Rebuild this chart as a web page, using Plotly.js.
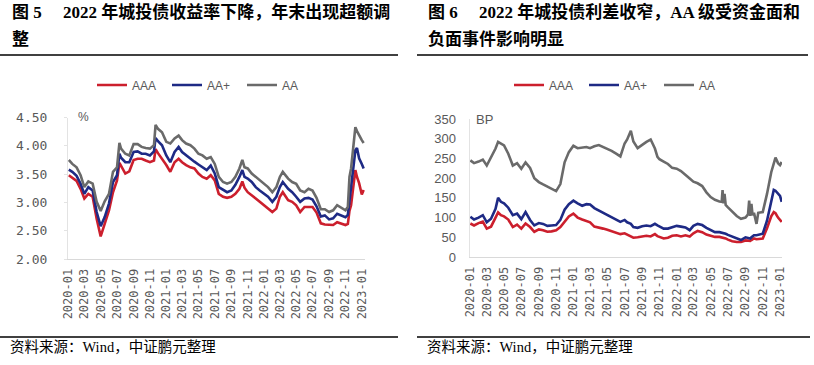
<!DOCTYPE html>
<html><head><meta charset="utf-8">
<script src="https://cdn.plot.ly/plotly-3.0.1.min.js"></script>
<style>html,body{margin:0;padding:0;background:#fff}#chart{width:814px;height:365px}</style>
</head><body><div id="chart"></div>
<script>
// ---------- Data: Figure 5 (yield, %) ----------
const datesL = ["2020-01-03","2020-01-16","2020-02-01","2020-02-16","2020-03-01","2020-03-16","2020-04-01","2020-04-16","2020-05-01","2020-05-16",
"2020-06-01","2020-06-16","2020-07-01","2020-07-10","2020-07-16","2020-08-01","2020-08-16","2020-09-01","2020-09-16","2020-10-01",
"2020-10-16","2020-11-01","2020-11-16","2020-11-22","2020-12-01","2020-12-16","2021-01-01","2021-01-16","2021-02-01","2021-02-16",
"2021-03-01","2021-03-16","2021-04-01","2021-04-16","2021-05-01","2021-05-16","2021-06-01","2021-06-16","2021-07-01","2021-07-16",
"2021-08-01","2021-08-16","2021-09-01","2021-09-16","2021-10-01","2021-10-12","2021-10-20","2021-11-01","2021-11-16","2021-12-01",
"2021-12-16","2022-01-01","2022-01-16","2022-02-01","2022-02-16","2022-03-01","2022-03-12","2022-04-01","2022-04-16","2022-05-01",
"2022-05-16","2022-06-01","2022-06-16","2022-07-01","2022-07-16","2022-08-01","2022-08-16","2022-09-01","2022-09-16","2022-10-01",
"2022-10-16","2022-11-01","2022-11-10","2022-11-16","2022-11-22","2022-12-01","2022-12-08","2022-12-14","2022-12-22","2023-01-01","2023-01-08"];
const aaL = [3.75,3.68,3.62,3.48,3.27,3.37,3.33,3.01,2.85,3.02,
3.15,3.54,3.62,4.05,3.95,3.86,3.83,4.03,4.03,3.98,
3.96,3.95,4.01,4.37,4.30,4.24,4.07,4.04,4.13,4.18,
4.10,4.04,4.01,3.95,3.86,3.83,3.77,3.80,3.68,3.45,
3.36,3.33,3.36,3.45,3.60,3.75,3.62,3.60,3.51,3.45,
3.39,3.33,3.27,3.18,3.27,3.45,3.54,3.42,3.36,3.33,
3.21,3.18,3.24,3.21,3.08,2.88,2.88,2.83,2.86,2.95,
2.90,2.86,2.92,3.45,3.60,4.05,4.33,4.26,4.18,4.10,4.05];
const aaPlusL = [3.58,3.54,3.47,3.33,3.15,3.27,3.21,2.83,2.58,2.74,
2.98,3.36,3.48,3.86,3.79,3.71,3.71,3.89,3.90,3.86,
3.86,3.83,3.90,4.14,4.08,4.01,3.83,3.71,3.89,3.98,
3.89,3.83,3.77,3.72,3.67,3.62,3.57,3.65,3.51,3.27,
3.23,3.18,3.21,3.31,3.45,3.57,3.45,3.42,3.36,3.27,
3.21,3.15,3.10,3.01,3.10,3.27,3.36,3.24,3.18,3.10,
3.01,3.07,3.08,3.05,2.93,2.75,2.77,2.70,2.72,2.80,
2.77,2.74,2.78,3.05,3.25,3.60,3.92,3.96,3.78,3.68,3.60];
const aaaL = [3.48,3.44,3.38,3.24,3.07,3.15,3.10,2.71,2.40,2.62,
2.86,3.18,3.39,3.70,3.64,3.51,3.55,3.75,3.77,3.77,
3.74,3.71,3.74,3.94,3.87,3.77,3.66,3.54,3.71,3.77,
3.71,3.66,3.62,3.60,3.51,3.45,3.42,3.48,3.39,3.15,
3.10,3.08,3.10,3.15,3.24,3.37,3.26,3.18,3.13,3.07,
3.01,2.95,2.89,2.83,2.89,3.10,3.18,3.04,3.01,2.95,
2.83,2.92,2.92,2.92,2.82,2.63,2.61,2.60,2.60,2.65,
2.62,2.60,2.62,2.85,2.95,3.30,3.57,3.45,3.34,3.14,3.22];

// ---------- Data: Figure 6 (spread, BP) ----------
const datesR = ["2020-01-03","2020-01-16","2020-02-01","2020-02-16","2020-03-01","2020-03-16","2020-04-01","2020-04-10","2020-04-20","2020-05-01",
"2020-05-16","2020-06-01","2020-06-16","2020-07-01","2020-07-16","2020-08-01","2020-08-16","2020-09-01","2020-09-16","2020-10-01",
"2020-10-16","2020-11-01","2020-11-16","2020-12-01","2020-12-16","2021-01-01","2021-01-16","2021-02-01","2021-02-16","2021-03-01",
"2021-03-16","2021-04-01","2021-04-16","2021-05-01","2021-05-16","2021-06-01","2021-06-16","2021-07-01","2021-07-10","2021-07-23",
"2021-08-01","2021-08-16","2021-09-01","2021-09-16","2021-10-01","2021-10-16","2021-10-25","2021-11-01","2021-11-16","2021-12-01",
"2021-12-16","2022-01-01","2022-01-16","2022-02-01","2022-02-16","2022-03-01","2022-03-16","2022-04-01","2022-04-16","2022-05-01",
"2022-05-16","2022-06-01","2022-06-09","2022-06-12","2022-06-15","2022-06-19","2022-06-23","2022-07-01","2022-07-16","2022-08-01",
"2022-08-16","2022-09-01","2022-09-10","2022-09-14","2022-09-18","2022-09-22","2022-09-26","2022-10-01","2022-10-10","2022-10-16",
"2022-11-01","2022-11-16","2022-12-01","2022-12-10","2022-12-16","2022-12-25","2023-01-01","2023-01-07"];
const aaR = [245,238,242,247,232,252,275,292,287,283,
262,232,238,224,240,226,200,190,184,178,
174,167,185,240,266,282,276,278,279,276,
281,284,279,275,269,262,255,288,298,320,
293,276,285,292,298,275,254,248,242,236,
226,224,218,207,199,191,187,180,164,152,
145,141,140,170,136,160,132,126,115,104,
97,100,108,143,104,135,106,112,84,112,
114,160,215,242,252,238,233,241];
const aaPlusR = [102,95,100,106,88,97,122,150,140,136,
125,106,110,96,114,94,80,86,84,79,
80,81,94,120,134,143,136,130,134,133,
124,118,114,108,101,95,89,94,88,84,
76,74,78,80,78,84,80,77,72,72,
75,79,77,75,68,79,84,81,74,68,
63,63,62,61,61,60,59,56,52,49,
43,50,48,47,47,50,52,55,55,56,
59,92,140,170,168,160,155,140];
const aaaR = [85,80,86,90,72,77,100,113,106,103,
95,76,82,72,85,76,64,70,68,64,
65,68,76,90,103,110,100,95,92,88,
77,75,72,69,65,62,58,60,57,54,
49,50,53,54,52,58,53,51,47,49,
54,55,52,55,52,60,66,63,57,54,
51,51,50,49,49,48,47,44,40,38,
38,42,42,42,41,43,45,47,45,46,
47,73,103,114,111,100,95,89];

const seriesNames = ["AAA","AA+","AA"];
const seriesColors = ["#CC1F2D","#1E2A85","#6A6A6A"];

// ---------- Layout helpers ----------
const W = 814, H = 365;
const px = x => x / W;
const py = y => 1 - y / H;

function mk(x, y, name, color, xa, ya, lg, show) {
  return {x: x, y: y, name: name, type: "scatter", mode: "lines",
    line: {color: color, width: 2.6}, xaxis: xa, yaxis: ya, legend: lg,
    showlegend: show, hoverinfo: "skip"};
}
const traces = [
  mk(datesL, aaaL, seriesNames[0], seriesColors[0], "x", "y", "legend", true),
  mk(datesL, aaPlusL, seriesNames[1], seriesColors[1], "x", "y", "legend", true),
  mk(datesL, aaL, seriesNames[2], seriesColors[2], "x", "y", "legend", true),
  mk(datesR, aaaR, seriesNames[0], seriesColors[0], "x2", "y2", "legend2", true),
  mk(datesR, aaPlusR, seriesNames[1], seriesColors[1], "x2", "y2", "legend2", true),
  mk(datesR, aaR, seriesNames[2], seriesColors[2], "x2", "y2", "legend2", true)
];

const tickGray = "#595959";
const monoFont = {family: "DejaVu Sans Mono, monospace", size: 12, color: tickGray};
function xAxis(domain, range) {
  return {domain: domain, type: "date", range: range, tick0: "2020-01-01", dtick: "M2",
    tickformat: "%Y-%m", tickangle: -90, tickfont: monoFont, showgrid: false, zeroline: false,
    showline: true, linecolor: "#d9d9d9", linewidth: 1, ticks: "", ticklabelstandoff: 4,
    fixedrange: true};
}
const serifCJK = "Liberation Serif, Noto Sans CJK SC, serif";
const titleFont = {family: serifCJK, size: 17, color: "#000"};
const srcFont = {family: serifCJK, size: 14.5, color: "#000"};
function ann(x, y, text, font) {
  return {xref: "paper", yref: "paper", x: px(x), y: py(y), xanchor: "left", yanchor: "middle",
    text: text, showarrow: false, font: font};
}
function hline(x0, x1, y) {
  return {type: "line", xref: "paper", yref: "paper", x0: px(x0), x1: px(x1), y0: py(y), y1: py(y),
    line: {color: "#000", width: 1.3}};
}
const legFont = {family: "Liberation Sans, Arial, sans-serif", size: 12, color: tickGray};

const layout = {
  width: W, height: H, margin: {l: 0, r: 0, t: 0, b: 0},
  paper_bgcolor: "#fff", plot_bgcolor: "#fff",
  xaxis: xAxis([px(68), px(365)], ["2019-12-31", "2023-01-13"]),
  yaxis: {domain: [py(259), py(117.5)], range: [2, 4.5], dtick: 0.5, tickformat: ".2f",
    tickfont: {family: "DejaVu Sans Mono, monospace", size: 13, color: tickGray},
    showgrid: false, zeroline: false, showline: true, linecolor: "#e3e3e3", linewidth: 1,
    ticks: "outside", ticklen: 3, tickcolor: "#e3e3e3", ticklabelstandoff: 14, fixedrange: true},
  xaxis2: xAxis([px(469.5), px(782)], ["2019-12-31", "2023-01-08"]),
  yaxis2: {domain: [py(257), py(119)], range: [0, 350], dtick: 50, anchor: "x2",
    tickfont: {family: "Liberation Sans, Arial, sans-serif", size: 13, color: tickGray},
    showgrid: false, zeroline: false, showline: true, linecolor: "#e3e3e3", linewidth: 1,
    ticks: "", ticklabelstandoff: 10, fixedrange: true},
  legend: {orientation: "h", x: px(92), xanchor: "left", y: py(85), yanchor: "middle",
    font: legFont, entrywidth: 30, bgcolor: "rgba(0,0,0,0)", traceorder: "normal"},
  legend2: {orientation: "h", x: px(509), xanchor: "left", y: py(85), yanchor: "middle",
    font: legFont, entrywidth: 30, bgcolor: "rgba(0,0,0,0)", traceorder: "normal"},
  annotations: [
    ann(10, 12, "<b>图 5　 2022 年城投债收益率下降，年末出现超额调</b>", titleFont),
    ann(10, 39, "<b>整</b>", titleFont),
    ann(426, 12, "<b>图 6　 2022 年城投债利差收窄，AA 级受资金面和</b>", titleFont),
    ann(426, 39, "<b>负面事件影响明显</b>", titleFont),
    ann(8, 347, "资料来源：Wind，中证鹏元整理", srcFont),
    ann(425, 347, "资料来源：Wind，中证鹏元整理", srcFont),
    ann(76, 117, "%", {family: "Liberation Sans, Arial, sans-serif", size: 12, color: tickGray}),
    ann(474, 119, "BP", {family: "Liberation Sans, Arial, sans-serif", size: 13, color: tickGray})
  ],
  shapes: [hline(0, 398, 55), hline(417, 808, 55), hline(0, 398, 337), hline(417, 810, 337)]
};
layout.xaxis2.anchor = "y2";
layout.xaxis.anchor = "y";
layout.yaxis.anchor = "x";

Plotly.newPlot("chart", traces, layout, {staticPlot: true, displayModeBar: false});
</script></body></html>
